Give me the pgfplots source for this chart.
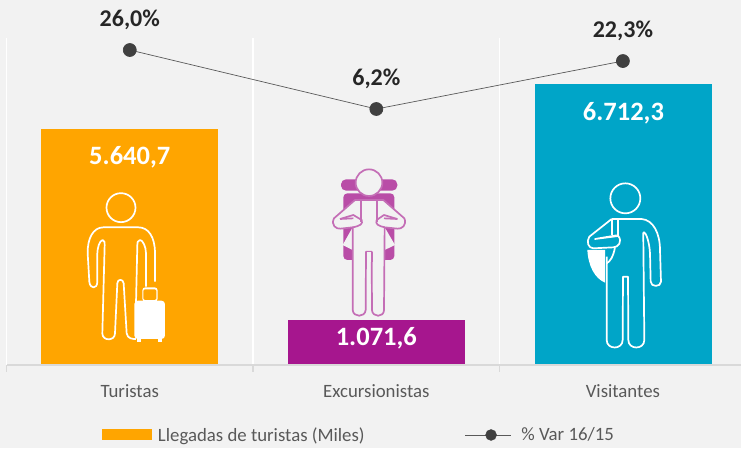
\documentclass[border=0pt]{standalone}
\usepackage{pgfplots}
\pgfplotsset{compat=1.18}
\usepackage{fontspec}
\setmainfont{Carlito}
\definecolor{bg}{HTML}{F2F2F2}
\definecolor{cOr}{HTML}{FFA500}
\definecolor{cPu}{HTML}{A6168E}
\definecolor{cBl}{HTML}{00A5C8}
\definecolor{axg}{HTML}{D9D9D9}
\definecolor{txg}{HTML}{595959}
\definecolor{dark}{HTML}{262626}
\definecolor{dot}{HTML}{404040}
\begin{document}
\begin{tikzpicture}[x=1pt,y=1pt]
\path[use as bounding box,fill=bg] (0,0) rectangle (741,448);
\begin{axis}[
  at={(6.5pt,83pt)},anchor=south west,
  scale only axis,width=734.5pt,height=327pt,
  xmin=-0.5,xmax=2.479,ymin=0,ymax=7811.8,
  clip=false,
  axis x line*=bottom,axis y line=none,
  x axis line style={draw=none},
  ytick=\empty,
  xtick={-0.5,0.5,1.5},xticklabels={},
  xmajorgrids,grid style={draw=white,line width=1.3pt},
  major tick length=0pt,
  extra x ticks={0,1,2},
  extra x tick labels={Turistas,Excursionistas,Visitantes},
  extra x tick style={major tick length=0pt,grid=none,
    tick label style={font=\fontsize{18.8}{20}\selectfont,text=txg,yshift=-16pt}},
  ybar=0pt,bar width=177pt,
  /pgf/bar shift=0pt,
  /pgf/number format/assume math mode=true,
  /pgf/number format/.cd,fixed,fixed zerofill,precision=1,use comma,1000 sep={.},
  /pgfplots/.cd,
  nodes near coords,
  nodes near coords style={font=\fontsize{26.5}{28}\bfseries\selectfont,text=white,anchor=center},
  legend style={at={(0.13,-0.214)},anchor=west,draw=none,fill=none,inner sep=0pt,outer sep=0pt,
     font=\fontsize{18.8}{20}\selectfont,text=txg,legend columns=2,
     /tikz/nodes={inner sep=0pt},
     /tikz/column 2/.style={column sep=100pt},
     /tikz/column 1/.style={column sep=6pt},
     /tikz/column 3/.style={column sep=10pt}},
  legend cell align=left,
]
\addplot[fill=cOr,draw=none,every node near coord/.append style={yshift=-28pt},
  legend image code/.code={\fill[cOr] (0,-5.5pt) rectangle (50pt,5.5pt);}] coordinates {(0,5640.7)};
\addlegendentry{Llegadas de turistas (Miles)}
\addplot[fill=cPu,draw=none,forget plot,every node near coord/.append style={yshift=-18pt}] coordinates {(1,1071.6)};
\addplot[fill=cBl,draw=none,forget plot,/pgf/bar shift=0.5pt,every node near coord/.append style={yshift=-29pt}] coordinates {(2,6712.3)};
\addlegendimage{legend image code/.code={
  \draw[txg,line width=0.7pt] (0,0) -- (46pt,0);
  \fill[dot] (26pt,0) circle (5.5pt);}}
\addlegendentry{\% Var 16/15}
\draw[axg,line width=1.8pt] (axis cs:-0.5,0) -- (axis cs:2.479,0);
\draw[axg,line width=1.5pt] (axis cs:-0.5,0) -- (axis cs:-0.5,-167);
\draw[axg,line width=1.5pt] (axis cs:0.5,0) -- (axis cs:0.5,-167);
\draw[axg,line width=1.5pt] (axis cs:1.5,0) -- (axis cs:1.5,-167);
\end{axis}
\begin{axis}[
  at={(6.5pt,83pt)},anchor=south west,
  scale only axis,width=734.5pt,height=327pt,
  xmin=-0.5,xmax=2.479,ymin=-79.7,ymax=30.03,
  clip=false,hide axis,
  /pgf/number format/assume math mode=true,
  /pgf/number format/.cd,fixed,fixed zerofill,precision=1,use comma,
  /pgfplots/.cd,
  nodes near coords={\pgfmathprintnumber{\pgfplotspointmeta}\%},
  nodes near coords style={font=\fontsize{24}{26}\bfseries\selectfont,text=dark,anchor=center,yshift=30pt},
]
\addplot[draw=txg,line width=0.7pt,mark=*,mark size=6.5pt,mark options={draw=dot,fill=dot}]
  coordinates {(0,26.0) (1,6.2) (2,22.3)};
\end{axis}
% Turistas icon
\begin{scope}[shift={(60,278)},x=0.3333pt,y=-0.3333pt,draw=white,line width=1.7pt,line join=round]
 \draw (183,113) circle (43.5);
 \draw (285,335) -- (285,250) .. controls (285,200) and (265,172) .. (235,172) -- (130,172)
   .. controls (100,172) and (82,205) .. (83,250) -- (88,335) .. controls (90,358) and (112,358) .. (112,335)
   -- (112,250) .. controls (112,235) and (118,212) .. (128,210) .. controls (135,210) and (134,220) .. (134,225)
   -- (127,490) .. controls (127,514) and (165,514) .. (165,490) -- (172,340) .. controls (172,326) and (190,326) .. (191,340)
   -- (200,490) .. controls (203,507) and (218,507) .. (228,507);
 \draw (258,350) -- (258,250) .. controls (258,230) and (248,210) .. (240,210) .. controls (232,210) and (232,220) .. (232,225) -- (228,400);
 \fill[white,rounded corners=3pt] (247,352) rectangle (293,395);
 \fill[cOr,rounded corners=1.5pt] (250,358) rectangle (289,390);
 \fill[white,rounded corners=3.5pt] (223,392) rectangle (315,507);
 \fill[white] (232,500) rectangle (243,517);
 \fill[white] (294,500) rectangle (305,517);
\end{scope}
% Excursionistas icon
\begin{scope}[shift={(310,298)},x=0.3333pt,y=-0.3333pt,line join=round]
 \fill[cPu!75!bg,rounded corners=5pt] (93,88) rectangle (262,122);
 \fill[cPu!75!bg,rounded corners=4pt] (100,130) rectangle (253,330);
 \fill[bg] (98,285) -- (128,232) -- (128,300) -- cycle;
 \fill[bg] (255,285) -- (224,232) -- (224,300) -- cycle;
 \begin{scope}[draw=cPu!60!bg,fill=bg,line width=1.7pt]
 \filldraw (135,150) -- (220,150) -- (283,205) .. controls (292,225) and (275,238) .. (262,236) -- (224,232)
   -- (222,480) .. controls (222,503) and (187,503) .. (186,480) -- (185,305) -- (168,305) -- (167,480)
   .. controls (165,503) and (130,503) .. (128,480) -- (128,232) -- (92,236) .. controls (78,238) and (62,225) .. (72,205) -- cycle;
 \fill[bg] (169,307) rectangle (184,335);
 \draw (90,207) -- (130,195) -- (155,210) .. controls (160,222) and (150,228) .. (128,232);
 \draw (262,207) -- (222,195) -- (200,210) .. controls (195,222) and (205,228) .. (224,232);
 \draw (153,152) -- (153,215);
 \draw (200,152) -- (200,215);
 \draw (90,207) -- (130,205);
 \draw (262,207) -- (222,205);
 \draw (168,305) -- (168,335);
 \draw (185,305) -- (185,335);
 \filldraw (177,98) circle (40);
 \end{scope}
\end{scope}
% Visitantes icon
\begin{scope}[shift={(560,278)},x=0.3333pt,y=-0.3333pt,draw=white,line width=1.7pt,line join=round]
 \fill[white] (82,240) .. controls (85,290) and (105,325) .. (135,338) -- (135,240) -- cycle;
 \draw (196,85) circle (45);
 \draw (155,147) -- (245,147) .. controls (280,150) and (300,190) .. (300,240) -- (303,335)
   .. controls (303,352) and (272,352) .. (272,335) -- (270,250) .. controls (268,215) and (258,188) .. (252,187)
   .. controls (248,187) and (250,200) .. (250,210) -- (253,510) .. controls (253,540) and (205,540) .. (205,510)
   -- (204,320) -- (189,320) -- (188,510) .. controls (188,540) and (140,540) .. (140,510) -- (140,260);
 \draw (155,147) -- (88,200) .. controls (78,215) and (85,235) .. (100,235) -- (160,232)
   .. controls (175,232) and (188,215) .. (175,198) -- (105,207) -- (170,196);
 \draw (155,147) -- (155,195);
 \draw (175,147) -- (175,198);
 \draw (165,232) .. controls (160,260) and (150,275) .. (140,280);
\end{scope}
\end{tikzpicture}
\end{document}
